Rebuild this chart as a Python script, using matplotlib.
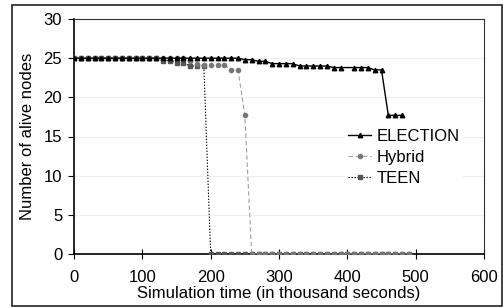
import numpy as np
import matplotlib
matplotlib.use("Agg")
import matplotlib.pyplot as plt
from matplotlib.patches import Rectangle

plt.rcParams["font.family"] = ["Liberation Sans", "DejaVu Sans"]

# ELECTION (x in thousand seconds)
election_x = list(range(0, 400, 10)) + [410, 420, 430, 440, 450, 460, 470, 480]
election_y = ([25] * 25 + [24.8, 24.8, 24.6, 24.6, 24.3, 24.3, 24.3, 24.3,
               24.0, 24.0, 24.0, 24.0, 24.0, 23.8, 23.8]
              + [23.8, 23.8, 23.8, 23.5, 23.5, 17.7, 17.7, 17.7])

hybrid_x = list(range(0, 500, 10))
hybrid_y = ([25] * 17 + [24.7, 24.2, 24.1, 24.1, 24.1, 24.1, 23.5, 23.5, 17.7]
            + [0] * 24)

teen_x = list(range(0, 500, 10))
teen_y = [25] * 13 + [24.7, 24.7, 24.4, 24.4, 24.0, 24.0, 24.0] + [0] * 30

xticks = [0, 100, 200, 300, 400, 500, 600]
yticks = [0, 5, 10, 15, 20, 25, 30]

fig = plt.figure(figsize=(5.03, 3.07), dpi=100)
ax = fig.add_axes([74 / 503, 1 - 254 / 307, 410 / 503, 235 / 307])

ax.plot(teen_x, teen_y, color="black", linestyle=(0, (1.2, 1.5)), linewidth=0.8,
        marker="s", markersize=3.0, markerfacecolor="#555555",
        markeredgecolor="#555555", label="TEEN", zorder=3)
ax.plot(hybrid_x, hybrid_y, color="#a0a0a0", linestyle=(0, (4, 2.5)), linewidth=0.8,
        marker="o", markersize=3.0, markerfacecolor="#777777",
        markeredgecolor="#777777", label="Hybrid", zorder=4)
ax.plot(election_x, election_y, color="black", linewidth=1.0,
        marker="^", markersize=3.2, label="ELECTION", zorder=5)

ax.set_xlim(0, 600)
ax.set_ylim(0, 30)
ax.set_xticks(xticks)
ax.set_yticks(yticks)
ax.grid(axis="y", color="#eeeeee", linewidth=0.8)
ax.set_axisbelow(True)

ax.tick_params(axis="x", direction="inout", length=7, width=0.8, labelsize=12, pad=8)
ax.tick_params(axis="y", direction="out", length=4.5, width=0.8, labelsize=12, pad=4)
for s in ["left", "bottom"]:
    ax.spines[s].set_linewidth(1.2)
for s in ["top", "right"]:
    ax.spines[s].set_linewidth(0.8)
    ax.spines[s].set_color("#333333")

ax.set_xlabel("Simulation time (in thousand seconds)", fontsize=12, labelpad=0.5)
ax.set_ylabel("Number of alive nodes", fontsize=12, labelpad=6)

h, l = ax.get_legend_handles_labels()
order = [2, 1, 0]
leg = ax.legend([h[i] for i in order], [l[i] for i in order],
                loc="center left", bbox_to_anchor=(0.64, 0.41),
                frameon=True, fancybox=False, edgecolor="none",
                facecolor="white", framealpha=1, fontsize=12,
                handlelength=1.4, handletextpad=0.3, labelspacing=0.35,
                borderpad=0.2)

fig.patches.append(Rectangle((12 / 503, 1 / 307), 490 / 503, 301 / 307,
                             transform=fig.transFigure, fill=False,
                             edgecolor="#222222", linewidth=1.2))

fig.savefig("out.png", dpi=100)
